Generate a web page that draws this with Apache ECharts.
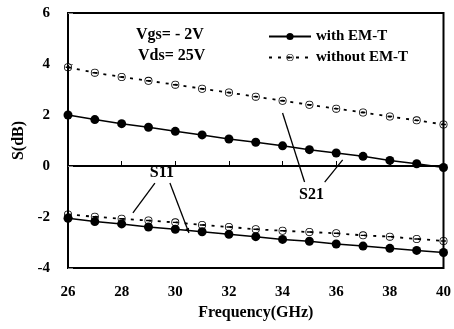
<!DOCTYPE html>
<html lang="en">
<head>
    <meta charset="UTF-8">
    <title>S(dB) vs Frequency</title>
    <script src="https://cdn.jsdelivr.net/npm/echarts@6/dist/echarts.min.js"></script>
</head>
<body style="margin:0">
    <div id="main" style="width: 454px; height: 329px"></div>
    <script>
        var freq = [26, 27, 28, 29, 30, 31, 32, 33, 34, 35, 36, 37, 38, 39, 40];
        var s21With = [2.0, 1.82, 1.66, 1.52, 1.36, 1.22, 1.06, 0.93, 0.79, 0.64, 0.51, 0.38, 0.22, 0.09, -0.06];
        var s21Without = [3.87, 3.66, 3.49, 3.34, 3.19, 3.03, 2.88, 2.72, 2.56, 2.4, 2.25, 2.1, 1.94, 1.79, 1.63];
        var s11With = [-2.05, -2.18, -2.27, -2.39, -2.48, -2.58, -2.68, -2.77, -2.88, -2.95, -3.06, -3.14, -3.23, -3.31, -3.39];
        var s11Without = [-1.9, -1.99, -2.07, -2.14, -2.21, -2.31, -2.39, -2.48, -2.54, -2.59, -2.64, -2.72, -2.77, -2.86, -2.94];
        var xTicks = [26, 28, 30, 32, 34, 36, 38, 40];
        var yTicks = [-4, -2, 0, 2, 4, 6];

        var font = "'Liberation Serif', 'Times New Roman', serif";
        // open circle with a bar across it
        var barCircle = 'path://M10,0A10,10,0,1,1,-10,0A10,10,0,1,1,10,0Z' +
            'M8,0A8,8,0,1,0,-8,0A8,8,0,1,0,8,0Z' +
            'M-6,-1.8L6,-1.8L6,1.8L-6,1.8Z';

        function pairs(ys) {
            return freq.map(function (f, i) { return [f, ys[i]]; });
        }

        function withSeries(ys) {
            return {
                name: 'with EM-T', type: 'line', data: pairs(ys),
                symbol: 'circle', symbolSize: 9,
                itemStyle: { color: '#000' },
                lineStyle: { color: '#000', width: 1.5 },
                z: 3
            };
        }
        function withoutSeries(ys) {
            return {
                name: 'without EM-T', type: 'line', data: pairs(ys),
                symbol: barCircle, symbolSize: 8,
                itemStyle: { color: '#000' },
                lineStyle: { color: '#000', width: 1.8, type: [3, 6] },
                z: 2
            };
        }

        var mychart = echarts.init(document.getElementById('main'));

        var option = {
            animation: false,
            grid: {
                left: 68, right: 10, top: 13, bottom: 61,
                show: true, borderColor: '#000', borderWidth: 2
            },
            legend: {
                data: ['with EM-T', 'without EM-T'],
                orient: 'vertical',
                left: 263, top: 24,
                itemWidth: 42, itemHeight: 9, itemGap: 6,
                textStyle: { fontFamily: font, fontWeight: 'bold', fontSize: 15, color: '#000' }
            },
            xAxis: {
                type: 'value', min: 26, max: 40, interval: 2,
                name: 'Frequency(GHz)', nameLocation: 'middle', nameGap: 36,
                nameTextStyle: { fontFamily: font, fontWeight: 'bold', fontSize: 16, color: '#000' },
                axisLine: { lineStyle: { color: '#000', width: 2 } },
                axisTick: { inside: true, length: 5, lineStyle: { color: '#000' } },
                splitLine: { show: false },
                axisLabel: {
                    margin: 17, color: '#000', fontFamily: font, fontWeight: 'bold', fontSize: 15,
                    formatter: function (v) { return xTicks.indexOf(v) >= 0 ? v : ''; }
                }
            },
            yAxis: {
                type: 'value', min: -4, max: 6, interval: 2,
                name: 'S(dB)', nameLocation: 'middle', nameGap: 38,
                nameTextStyle: { fontFamily: font, fontWeight: 'bold', fontSize: 16, color: '#000' },
                axisLine: { lineStyle: { color: '#000', width: 2 } },
                axisTick: { inside: true, length: 5, lineStyle: { color: '#888' } },
                splitLine: { show: false },
                axisLabel: {
                    margin: 18, color: '#000', fontFamily: font, fontWeight: 'bold', fontSize: 15,
                    formatter: function (v) { return yTicks.indexOf(v) >= 0 ? v : ''; }
                }
            },
            series: [
                withSeries(s21With), withSeries(s11With),
                withoutSeries(s21Without), withoutSeries(s11Without)
            ]
        };
        mychart.setOption(option);

        // annotation lines, in data coordinates
        var notes = [
            { from: [29.24, -0.67], to: [28.42, -1.84] },
            { from: [29.80, -0.67], to: [30.51, -2.63], arrow: true },
            { from: [34.0, 2.08], to: [34.82, -0.63] },
            { from: [36.24, 0.24], to: [35.57, -0.63] }
        ];
        var labels = [
            { text: 'S11', at: [29.5, -0.27] },
            { text: 'S21', at: [35.08, -1.14] }
        ];

        function px(p) { return mychart.convertToPixel({ gridIndex: 0 }, p); }

        var graphic = [];
        notes.forEach(function (n) {
            var a = px(n.from), b = px(n.to);
            graphic.push({
                type: 'line', shape: { x1: a[0], y1: a[1], x2: b[0], y2: b[1] },
                style: { stroke: '#000', lineWidth: 1.3 }
            });
            if (n.arrow) {
                var dx = b[0] - a[0], dy = b[1] - a[1];
                var len = Math.sqrt(dx * dx + dy * dy);
                var ux = dx / len, uy = dy / len;
                var bx = b[0] - ux * 5, by = b[1] - uy * 5;
                graphic.push({
                    type: 'polygon',
                    shape: { points: [[b[0], b[1]], [bx - uy * 2, by + ux * 2], [bx + uy * 2, by - ux * 2]] },
                    style: { fill: '#000' }
                });
            }
        });
        labels.forEach(function (l) {
            var p = px(l.at);
            graphic.push({
                type: 'text', x: p[0], y: p[1],
                style: { text: l.text, align: 'center', verticalAlign: 'middle',
                    font: 'bold 16px ' + font, fill: '#000' }
            });
        });
        graphic.push({
            type: 'text', x: 136, y: 35,
            style: { text: 'Vgs= - 2V', verticalAlign: 'middle', font: 'bold 16px ' + font, fill: '#000' }
        });
        graphic.push({
            type: 'text', x: 138, y: 56,
            style: { text: 'Vds= 25V', verticalAlign: 'middle', font: 'bold 16px ' + font, fill: '#000' }
        });
        mychart.setOption({ graphic: graphic });
    </script>
</body>
</html>
